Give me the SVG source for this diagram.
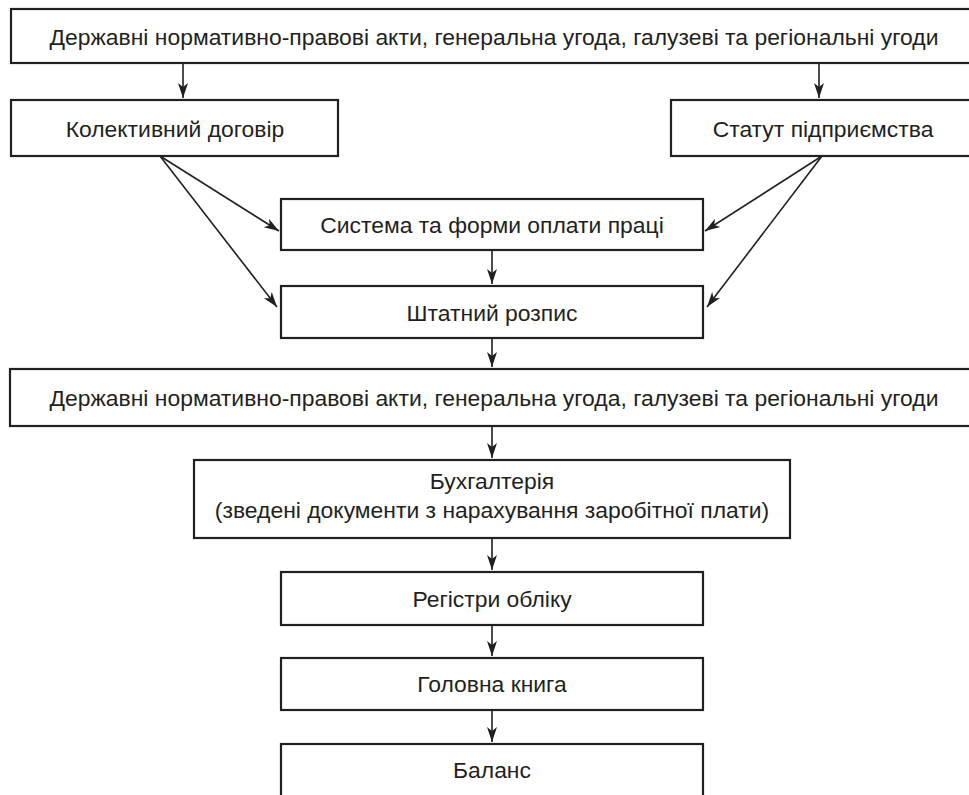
<svg xmlns="http://www.w3.org/2000/svg" width="969" height="795" viewBox="0 0 969 795">
<style>
.box{fill:#fff;stroke:#231f20;stroke-width:2.2}
.t{font-family:"Liberation Sans",Arial,sans-serif;font-size:22.9px;fill:#231f20;text-anchor:middle}
.c{fill:none;stroke:#231f20;stroke-width:1.6}
</style>
<defs>
<marker id="ah" markerUnits="userSpaceOnUse" markerWidth="16" markerHeight="12" refX="15" refY="5" orient="auto" viewBox="0 0 16 10">
<path d="M0,0 L15,5 L0,10 L4,5 z" fill="#231f20"/>
</marker>
</defs>
<rect width="969" height="795" fill="#fff"/>
<g id="n1"><rect class="box" x="11" y="9" width="966" height="54"/><text class="t" x="494" y="45">Державні нормативно-правові акти, генеральна угода, галузеві та регіональні угоди</text></g>
<g id="n2"><rect class="box" x="11" y="100" width="327" height="56"/><text class="t" x="175" y="137">Колективний договір</text></g>
<g id="n3"><rect class="box" x="671" y="100" width="306" height="56"/><text class="t" x="823" y="137">Статут підприємства</text></g>
<g id="n4"><rect class="box" x="281" y="199" width="422" height="51"/><text class="t" x="492" y="233">Система та форми оплати праці</text></g>
<g id="n5"><rect class="box" x="281" y="286" width="422" height="52"/><text class="t" x="492" y="321">Штатний розпис</text></g>
<g id="n6"><rect class="box" x="10" y="369" width="967" height="57"/><text class="t" x="494" y="406">Державні нормативно-правові акти, генеральна угода, галузеві та регіональні угоди</text></g>
<g id="n7"><rect class="box" x="194" y="460" width="596" height="78"/><text class="t" x="492" y="489">Бухгалтерія</text><text class="t" x="492" y="518">(зведені документи з нарахування заробітної плати)</text></g>
<g id="n8"><rect class="box" x="281" y="572" width="422" height="53"/><text class="t" x="492" y="607">Регістри обліку</text></g>
<g id="n9"><rect class="box" x="281" y="658" width="422" height="52"/><text class="t" x="492" y="692">Головна книга</text></g>
<g id="n10"><rect class="box" x="281" y="744" width="422" height="54"/><text class="t" x="492" y="778">Баланс</text></g>
<g id="connectors">
<line class="c" x1="183" y1="63" x2="183" y2="98" marker-end="url(#ah)"/>
<line class="c" x1="819" y1="63" x2="819" y2="98" marker-end="url(#ah)"/>
<line class="c" x1="160" y1="156" x2="279" y2="231" marker-end="url(#ah)"/>
<line class="c" x1="160" y1="156" x2="277" y2="307" marker-end="url(#ah)"/>
<line class="c" x1="822" y1="156" x2="705" y2="231" marker-end="url(#ah)"/>
<line class="c" x1="822" y1="156" x2="707" y2="307" marker-end="url(#ah)"/>
<line class="c" x1="492" y1="250" x2="492" y2="284" marker-end="url(#ah)"/>
<line class="c" x1="492" y1="338" x2="492" y2="367" marker-end="url(#ah)"/>
<line class="c" x1="492" y1="426" x2="492" y2="458" marker-end="url(#ah)"/>
<line class="c" x1="492" y1="538" x2="492" y2="570" marker-end="url(#ah)"/>
<line class="c" x1="492" y1="625" x2="492" y2="656" marker-end="url(#ah)"/>
<line class="c" x1="492" y1="710" x2="492" y2="742" marker-end="url(#ah)"/>
</g>
</svg>
